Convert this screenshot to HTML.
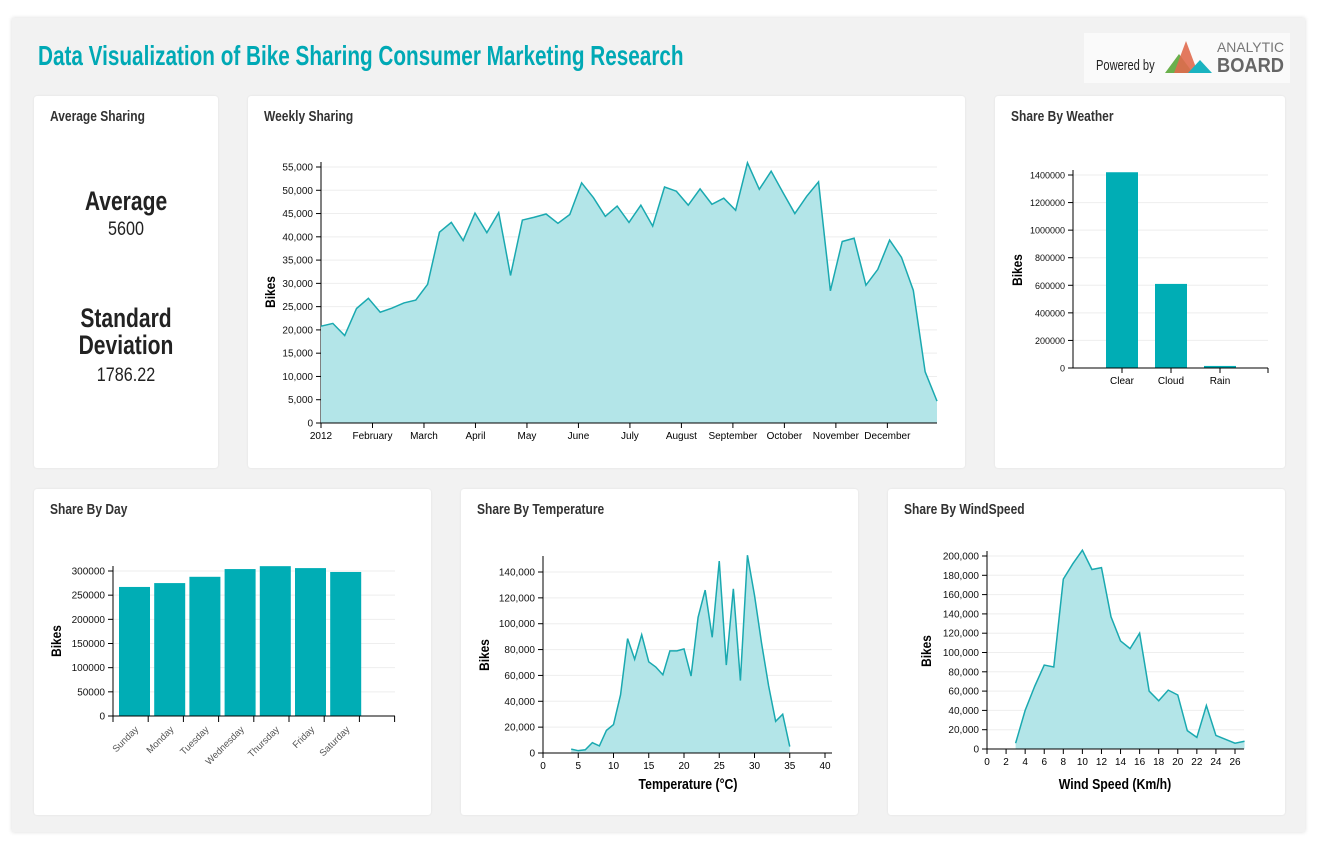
<!DOCTYPE html>
<html><head><meta charset="utf-8"><style>
body{margin:0;width:1318px;height:845px;background:#fff;font-family:"Liberation Sans",sans-serif;position:relative;overflow:hidden}
#frame{position:absolute;left:12px;top:18px;width:1293px;height:814px;background:#f2f2f2;box-shadow:0 0 4px rgba(0,0,0,.15)}
.card{position:absolute;background:#fff;border-radius:3px;box-shadow:0 0 2px rgba(0,0,0,.08)}
.ct{position:absolute;left:16px;top:12px;font-size:15px;font-weight:bold;color:#333;transform:scaleX(.8);transform-origin:left;white-space:nowrap}
#title{position:absolute;left:38px;top:40px;font-size:28px;font-weight:bold;color:#00a9b5;transform:scaleX(.74);transform-origin:left;white-space:nowrap}
svg{position:absolute;left:0;top:0}
svg text{font-family:"Liberation Sans",sans-serif}
</style></head><body>
<div id="frame"></div>
<div id="title">Data Visualization of Bike Sharing Consumer Marketing Research</div>
<div style="position:absolute;left:1084px;top:33px;width:206px;height:50px;background:#fafafa">
 <div style="position:absolute;left:12px;top:24px;font-size:15px;color:#222;transform:scaleX(.74);transform-origin:left;white-space:nowrap">Powered by</div>
 <svg width="206" height="50" style="position:absolute;left:0;top:0">
  <polygon points="81,40 95,21 109,40" fill="#6ab04c"/>
  <polygon points="90,40 102,8 114,40" fill="#e06a4e" opacity=".9"/>
  <polygon points="104,40 116,27 128,40" fill="#1ab3c0"/>
  <text x="133" y="19" font-size="14" fill="#777" textLength="67" lengthAdjust="spacingAndGlyphs">ANALYTIC</text>
  <text x="133" y="39" font-size="20" font-weight="bold" fill="#666" textLength="67" lengthAdjust="spacingAndGlyphs">BOARD</text>
 </svg>
</div>
<div class="card" style="left:34px;top:96px;width:184px;height:372px">
 <div class="ct">Average Sharing</div>
 <div style="position:absolute;left:0;width:184px;top:90px;text-align:center;color:#222">
  <div style="font-size:27px;font-weight:bold;transform:scaleX(.78)">Average</div>
  <div style="font-size:19px;transform:scaleX(.85);margin-top:2px">5600</div>
  <div style="font-size:27px;font-weight:bold;transform:scaleX(.78);margin-top:64px;line-height:27px">Standard<br>Deviation</div>
  <div style="font-size:19px;transform:scaleX(.85);margin-top:6px">1786.22</div>
 </div>
</div>
<div class="card" style="left:248px;top:96px;width:717px;height:372px"><div class="ct">Weekly Sharing</div></div>
<div class="card" style="left:995px;top:96px;width:290px;height:372px"><div class="ct">Share By Weather</div></div>
<div class="card" style="left:34px;top:489px;width:397px;height:326px"><div class="ct">Share By Day</div></div>
<div class="card" style="left:461px;top:489px;width:397px;height:326px"><div class="ct">Share By Temperature</div></div>
<div class="card" style="left:888px;top:489px;width:397px;height:326px"><div class="ct">Share By WindSpeed</div></div>
<svg id="s" width="1318" height="845"></svg>
<script>
const weeklyValues=[20800,21400,18800,24600,26800,23800,24700,25800,26400,29800,41000,43100,39200,45100,40900,45200,31700,43600,44200,44900,42900,44800,51600,48400,44400,46600,43100,46800,42300,50700,49800,46800,50300,47000,48300,45700,55900,50200,54100,49500,45000,48700,51800,28400,39000,39700,29600,33000,39300,35600,28500,11000,4700];
const monthLabels=["2012","February","March","April","May","June","July","August","September","October","November","December"];
const weatherCats=["Clear","Cloud","Rain"];
const weatherValues=[1420000,610000,15000];
const dayCats=["Sunday","Monday","Tuesday","Wednesday","Thursday","Friday","Saturday"];
const dayValues=[267000,275000,288000,304000,310000,306000,298000];
const tempX=[4,5,6,7,8,9,10,11,12,13,14,15,16,17,18,19,20,21,22,23,24,25,26,27,28,29,30,31,32,33,34,35];
const tempValues=[3000,1800,2500,8000,5500,17500,22000,45000,88500,72500,91500,70500,66500,60500,79000,79000,80500,59500,105000,126000,89500,148500,68000,127000,56000,153000,122000,85000,52000,24500,30000,5000];
const windX=[3,4,5,6,7,8,9,10,11,12,13,14,15,16,17,18,19,20,21,22,23,24,25,26,27];
const windValues=[6000,40000,65000,87000,85000,176000,192000,206000,186000,188000,137000,112000,104000,120000,60000,50000,61000,56000,19000,12000,45000,14000,10000,6000,8000];

const S=document.getElementById('s');const NS="http://www.w3.org/2000/svg";
function el(t,a,txt){const e=document.createElementNS(NS,t);for(const k in a)e.setAttribute(k,a[k]);if(txt!==undefined)e.textContent=txt;S.appendChild(e);return e;}
const fmt=v=>v.toLocaleString('en-US');
const LINE="#1aa9b0",FILL="#b3e5e8",BAR="#00adb5";
function yAxis(x0,x1,y0,y1,ticks,fn,label,fs){
  for(const t of ticks){const y=fn(t);
    const g=el('line',{x1:x0,x2:x1,y1:y,y2:y,stroke:'#eee'});
    el('line',{x1:x0-5,x2:x0,y1:y,y2:y,stroke:'#000'});
    const tx=el('text',{x:x0-8,y:y+3.5,'font-size':fs||10,'text-anchor':'end',fill:'#111'},label(t));
    }
  el('line',{x1:x0,x2:x0,y1:y0,y2:y1,stroke:'#000'});
}
function yTitle(x,y){const t=el('text',{x:0,y:0,'font-size':14,'font-weight':'bold','text-anchor':'middle',transform:`translate(${x},${y}) rotate(-90) scale(0.85,1)`},'Bikes');
 }
function area(xs,ys,ybase,name){
 let d='M'+xs.map((x,i)=>x+','+ys[i]).join('L');
 const a=el('path',{d:d+`L${xs[xs.length-1]},${ybase}L${xs[0]},${ybase}Z`,fill:FILL});
 const l=el('path',{d:d,fill:'none',stroke:LINE,'stroke-width':1.5});
}
// Weekly
{const X0=321,X1=937,Y0=423,Y55=167;const ys=v=>Y0-(v/55000)*(Y0-Y55);
 const xs=i=>X0+i*(X1-X0)/(weeklyValues.length-1);
 const ticks=[];for(let v=0;v<=55000;v+=5000)ticks.push(v);
 yAxis(X0,X1,Y0,162,ticks,ys,fmt);
 area(weeklyValues.map((v,i)=>xs(i)),weeklyValues.map(ys),Y0,'weekly');
 el('line',{x1:X0,x2:X1,y1:Y0,y2:Y0,stroke:'#000'});
 monthLabels.forEach((m,i)=>{const x=X0+(i/12)*(X1-X0)*1.003;el('line',{x1:x,x2:x,y1:Y0,y2:Y0+5,stroke:'#000'});
  const t=el('text',{x:x,y:Y0+16,'font-size':10,'text-anchor':'middle'},m);});
 yTitle(275,292);}
// Weather
{const X0=1073,X1=1268,Y0=368,Ytop=175;const ys=v=>Y0-(v/1400000)*(Y0-Ytop);
 const ticks=[0,200000,400000,600000,800000,1000000,1200000,1400000];
 yAxis(X0,X1,Y0,170,ticks,ys,String,9);
 weatherCats.forEach((c,i)=>{const cx=1122+i*49;
  const r=el('rect',{x:cx-16,y:ys(weatherValues[i]),width:32,height:Y0-ys(weatherValues[i]),fill:BAR});
  el('line',{x1:cx,x2:cx,y1:Y0,y2:Y0+5,stroke:'#000'});
  const t=el('text',{x:cx,y:Y0+16,'font-size':10,'text-anchor':'middle'},c);});
 el('line',{x1:X0,x2:X1,y1:Y0,y2:Y0,stroke:'#000'});el('line',{x1:X1,x2:X1,y1:Y0,y2:Y0+5,stroke:'#000'});
 yTitle(1022,270);}
// Day
{const X0=113,X1=395,Y0=716,Y3=571;const ys=v=>Y0-(v/300000)*(Y0-Y3);const bw=35.2;
 const ticks=[0,50000,100000,150000,200000,250000,300000];
 yAxis(X0,X1,Y0,566,ticks,ys,String,10);
 for(let i=0;i<=8;i++)el('line',{x1:X0+i*bw,x2:X0+i*bw,y1:Y0,y2:Y0+6,stroke:'#000'});
 dayCats.forEach((c,i)=>{const bx=X0+i*bw+6;
  const r=el('rect',{x:bx,y:ys(dayValues[i]),width:31,height:Y0-ys(dayValues[i]),fill:BAR});
  const t=el('text',{x:0,y:0,'font-size':9.5,'text-anchor':'end',fill:'#555',transform:`translate(${bx+20},${Y0+14}) rotate(-45)`},c);});
 el('line',{x1:X0,x2:X1,y1:Y0,y2:Y0,stroke:'#000'});
 yTitle(61,641);}
// Temperature
{const X0=543,X1=825,Y0=753,Y14=572;const xs=v=>X0+v/40*(X1-X0);const ys=v=>Y0-(v/140000)*(Y0-Y14);
 const ticks=[0,20000,40000,60000,80000,100000,120000,140000];
 yAxis(X0,832,Y0,556,ticks,ys,fmt);
 area(tempX.map(xs),tempValues.map(ys),Y0,'temperature');
 el('line',{x1:X0,x2:832,y1:Y0,y2:Y0,stroke:'#000'});
 for(let v=0;v<=40;v+=5){el('line',{x1:xs(v),x2:xs(v),y1:Y0,y2:Y0+5,stroke:'#000'});
  const t=el('text',{x:xs(v),y:Y0+16,'font-size':10,'text-anchor':'middle'},v);}
 const t=el('text',{x:0,y:0,'font-size':15,'font-weight':'bold','text-anchor':'middle',transform:'translate(688,789) scale(0.82,1)'},'Temperature (°C)');
 yTitle(489,655);}
// Wind
{const X0=987,X1=1235,Y0=749,Y2=556;const xs=v=>X0+v/26*(X1-X0);const ys=v=>Y0-(v/200000)*(Y0-Y2);
 const ticks=[];for(let v=0;v<=200000;v+=20000)ticks.push(v);
 yAxis(X0,1244,Y0,551,ticks,ys,fmt);
 area(windX.map(xs),windValues.map(ys),Y0,'wind');
 el('line',{x1:X0,x2:1244,y1:Y0,y2:Y0,stroke:'#000'});
 for(let v=0;v<=26;v+=2){el('line',{x1:xs(v),x2:xs(v),y1:Y0,y2:Y0+5,stroke:'#000'});
  const t=el('text',{x:xs(v),y:Y0+16,'font-size':10,'text-anchor':'middle'},v);}
 const t=el('text',{x:0,y:0,'font-size':15,'font-weight':'bold','text-anchor':'middle',transform:'translate(1115,789) scale(0.82,1)'},'Wind Speed (Km/h)');
 yTitle(931,651);}
</script>
</body></html>
